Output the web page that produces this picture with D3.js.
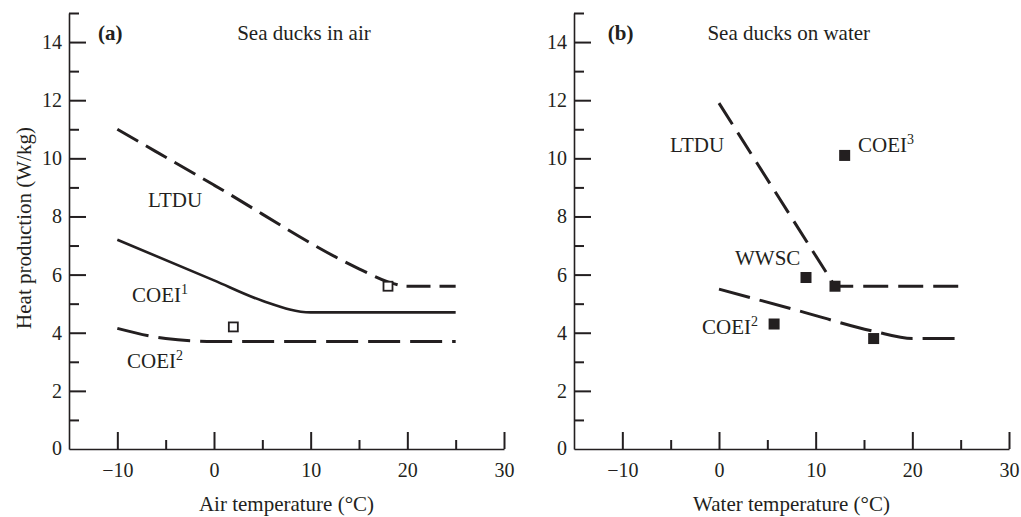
<!DOCTYPE html>
<html>
<head>
<meta charset="utf-8">
<script src="https://cdn.jsdelivr.net/npm/d3@7"></script>
<style>
  body { margin: 0; background: #fff; }
  svg { display: block; font-family: "Liberation Serif", "Times New Roman", serif; }
  .axis path, .axis line { stroke: #231f20; }
  .axis text { font-family: "Liberation Serif", serif; font-size: 20px; fill: #231f20; }
</style>
</head>
<body>
<div class="d3"></div>
<script>
// ---- data ----
var yMajorTicks = [0, 2, 4, 6, 8, 10, 12, 14];
var yMinorTicks = [1, 3, 5, 7, 9, 11, 13, 15];
var xMajorTicks = [-10, 0, 10, 20, 30];
var xMinorTicks = [-5, 5, 15, 25];

// (a) sea ducks in air
var airLTDU  = [[-10, 11.0], [0, 9.08], [15, 6.2], [18, 5.75], [20, 5.6], [25, 5.6]];
var airCOEI1 = [[-10, 7.2], [0, 5.8], [5, 5.1], [10, 4.7], [25, 4.7]];
var airCOEI2 = [[-10, 4.15], [-5, 3.8], [0, 3.7], [25, 3.7]];
var airPoints = [[2, 4.2], [18, 5.6]];

// (b) sea ducks on water
var waterLTDU  = [[0, 11.9], [12, 5.6], [25, 5.6]];
var waterCOEI2 = [[0, 5.5], [8, 4.78], [16, 4.05], [20, 3.8], [25, 3.8]];
var waterPoints = [[13, 10.1], [9, 5.9], [12, 5.6], [5.7, 4.3], [16, 3.8]];

var w = 1021, h = 517;
var ink = "#231f20";
var fs = 21;

var svg = d3.select(".d3")
	.append("svg")
	.attr("width", w)
	.attr("height", h);

var yScale = d3.scaleLinear().domain([0, 15]).range([449, 13]);

function drawPanel(x0, x1, opts) {
	var xScale = d3.scaleLinear().domain([-15, 30]).range([x0, x1]);
	var g = svg.append("g");

	// y axis: major ticks with labels, minor ticks without
	g.append("g")
		.attr("class", "axis")
		.attr("transform", "translate(" + x0 + ",0)")
		.call(d3.axisLeft(yScale).tickValues(yMajorTicks.filter(d => d > 0))
			.tickSizeInner(-17).tickSizeOuter(0).tickPadding(7))
		.call(a => a.selectAll("line").attr("stroke-width", 2))
		.call(a => a.select(".domain").attr("stroke-width", 1.6));
	g.append("g")
		.attr("class", "axis")
		.attr("transform", "translate(" + x0 + ",0)")
		.call(d3.axisLeft(yScale).tickValues(yMinorTicks).tickFormat("")
			.tickSizeInner(-10).tickSizeOuter(0))
		.call(a => a.selectAll("line").attr("stroke-width", 2))
		.call(a => a.select(".domain").remove());
	// the "0" label sits at the corner
	g.append("text")
		.attr("x", x0 - 7).attr("y", yScale(0)).attr("dy", "0.32em")
		.attr("text-anchor", "end").attr("font-size", 20).attr("fill", ink)
		.text("0");

	// x axis
	g.append("g")
		.attr("class", "axis")
		.attr("transform", "translate(0," + yScale(0) + ")")
		.call(d3.axisBottom(xScale).tickValues(xMajorTicks)
			.tickSizeInner(-17).tickSizeOuter(0).tickPadding(14))
		.call(a => a.selectAll("line").attr("stroke-width", 2))
		.call(a => a.select(".domain").attr("stroke-width", 1.6));
	g.append("g")
		.attr("class", "axis")
		.attr("transform", "translate(0," + yScale(0) + ")")
		.call(d3.axisBottom(xScale).tickValues(xMinorTicks).tickFormat("")
			.tickSizeInner(-9).tickSizeOuter(0))
		.call(a => a.selectAll("line").attr("stroke-width", 2))
		.call(a => a.select(".domain").remove());

	// x axis title
	g.append("text")
		.attr("x", (x0 + x1) / 2).attr("y", 511)
		.attr("text-anchor", "middle").attr("font-size", fs).attr("fill", ink)
		.text(opts.xTitle);

	// panel letter + title
	g.append("text")
		.attr("x", xScale(opts.letterAt)).attr("y", 40)
		.attr("font-size", fs).attr("font-weight", "bold").attr("fill", ink)
		.text(opts.letter);
	g.append("text")
		.attr("x", xScale(opts.titleAt)).attr("y", 40)
		.attr("font-size", fs).attr("fill", ink)
		.text(opts.title);

	var line = d3.line()
		.x(d => xScale(d[0]))
		.y(d => yScale(d[1]));

	opts.lines.forEach(l => {
		g.append("path")
			.datum(l.data)
			.attr("fill", "none")
			.attr("stroke", ink)
			.attr("stroke-width", l.width)
			.attr("stroke-dasharray", l.dash)
			.attr("d", line.curve(l.curve || d3.curveLinear));
	});

	opts.points.forEach(p => {
		var s = p.filled ? 11 : 9;
		g.selectAll(null)
			.data(p.data)
			.enter()
			.append("rect")
			.attr("x", d => xScale(d[0]) - s / 2)
			.attr("y", d => yScale(d[1]) - s / 2)
			.attr("width", s)
			.attr("height", s)
			.attr("fill", p.filled ? ink : "#fff")
			.attr("stroke", ink)
			.attr("stroke-width", p.filled ? 0 : 1.8);
	});

	opts.labels.forEach(l => {
		var t = g.append("text")
			.attr("x", l.x).attr("y", l.y)
			.attr("font-size", fs).attr("fill", ink)
			.text(l.text);
		if (l.sup) {
			t.append("tspan")
				.attr("font-size", 14)
				.attr("dy", -8)
				.text(l.sup);
		}
	});
}

drawPanel(69, 504, {
	letter: "(a)", letterAt: -12, title: "Sea ducks in air", titleAt: 2.4,
	xTitle: "Air temperature (°C)",
	lines: [
		{data: airLTDU, dash: "24,9", width: 3, curve: d3.curveMonotoneX},
		{data: airCOEI1, dash: null, width: 2.6, curve: d3.curveMonotoneX},
		{data: airCOEI2, dash: "32,10", width: 3, curve: d3.curveMonotoneX}
	],
	points: [{data: airPoints, filled: false}],
	labels: [
		{x: 148, y: 207, text: "LTDU"},
		{x: 132, y: 302, text: "COEI", sup: "1"},
		{x: 127, y: 368, text: "COEI", sup: "2"}
	]
});

drawPanel(574, 1009, {
	letter: "(b)", letterAt: -11.5, title: "Sea ducks on water", titleAt: -1.2,
	xTitle: "Water temperature (°C)",
	lines: [
		{data: waterLTDU, dash: "25,10", width: 3},
		{data: waterCOEI2, dash: "32,10", width: 3, curve: d3.curveMonotoneX}
	],
	points: [{data: waterPoints, filled: true}],
	labels: [
		{x: 670, y: 152, text: "LTDU"},
		{x: 858, y: 152, text: "COEI", sup: "3"},
		{x: 735, y: 265, text: "WWSC"},
		{x: 702, y: 334, text: "COEI", sup: "2"}
	]
});

// shared y axis title
svg.append("text")
	.attr("transform", "translate(31,228) rotate(-90)")
	.attr("text-anchor", "middle")
	.attr("font-size", fs).attr("fill", ink)
	.text("Heat production (W/kg)");
</script>
</body>
</html>
